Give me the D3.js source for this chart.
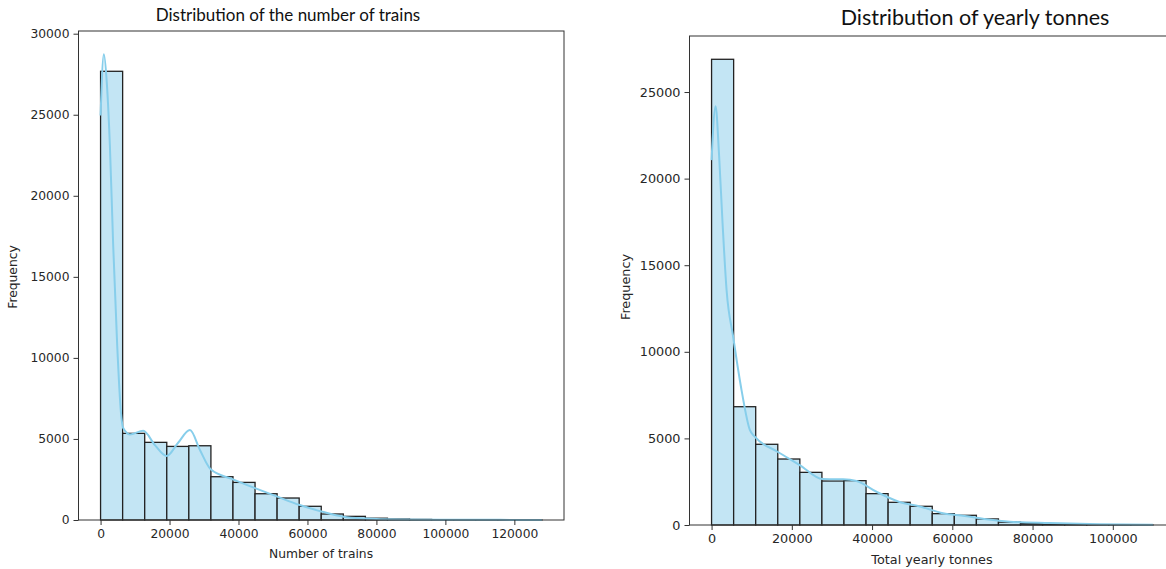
<!DOCTYPE html>
<html>
<head>
<meta charset="utf-8">
<script src="https://cdn.jsdelivr.net/npm/d3@7"></script>
<style>
  body { margin: 0; background: #fff; }
  svg { display: block; }
  .tick text { font-family: "DejaVu Sans", sans-serif; fill: #262626; }
  .title { font-family: Lato, "Open Sans", sans-serif; fill: #111; }
  .axlabel { font-family: "DejaVu Sans", sans-serif; fill: #262626; }
</style>
</head>
<body>
<div id="charts"></div>
<script>
// ---- data ----
var trainEdges = [0, 6400, 12800, 19200, 25600, 32000, 38400, 44800, 51200, 57600, 64000,
                  70400, 76800, 83200, 89600, 96000, 102400, 108800, 115200, 121600, 128000];
var trainCounts = [27680, 5345, 4790, 4540, 4580, 2670, 2320, 1620, 1356, 845,
                   370, 225, 110, 60, 35, 20, 12, 8, 5, 3];
var trainKdeX = [0, 960, 1800, 2700, 3660, 4820, 5890, 6560, 8500, 12370, 15760, 19160, 22440,
                 25920, 28820, 31930, 38400, 44990, 51260, 57760, 64320, 70420, 76720, 86880,
                 101400, 115900, 128000];
var trainKdeY = [24950, 28730, 27000, 23120, 16950, 10790, 6680, 5670, 5280, 5500, 4620, 3950, 4750,
                 5550, 4320, 3125, 2510, 1950, 1440, 925, 510, 200, 90, 30,
                 15, 8, 3];
var trainYTicks = [0, 5000, 10000, 15000, 20000, 25000, 30000];
var trainXTicks = [0, 20000, 40000, 60000, 80000, 100000, 120000];

var tonneEdges = [0, 5500, 11000, 16500, 22000, 27500, 33000, 38500, 44000, 49500, 55000,
                  60500, 66000, 71500, 77000, 82500, 88000, 93500, 99000, 104500, 110000];
var tonneCounts = [26890, 6830, 4660, 3810, 3040, 2540, 2560, 1810, 1310, 1080,
                   655, 560, 350, 165, 80, 45, 25, 12, 6, 3];
var tonneKdeX = [0, 1000, 1890, 2740, 3740, 5380, 7470, 9540, 10780, 16440, 21990, 27650,
                 32780, 36110, 41100, 46650, 52130, 57680, 63090, 68490, 74300, 84260,
                 96710, 110000];
var tonneKdeY = [21070, 24180, 21270, 17420, 13570, 10870, 7790, 5490, 5100, 4230, 3460, 2650,
                 2640, 2540, 1920, 1345, 1057, 675, 520, 330, 190, 110,
                 45, 10];
var tonneYTicks = [0, 5000, 10000, 15000, 20000, 25000];
var tonneXTicks = [0, 20000, 40000, 60000, 80000, 100000];

// append the svg object to the body of the page
var svg = d3.select("#charts")
    .append("svg")
    .attr("width", 1166)
    .attr("height", 569);

function drawHist(opt) {
    var x = d3.scaleLinear()
        .domain(opt.xDomain)
        .range([opt.left, opt.right]);
    var y = d3.scaleLinear()
        .domain(opt.yDomain)
        .range([opt.bottom, opt.top]);

    var g = svg.append("g");

    // bars
    var bins = opt.counts.map(function(c, i) {
        return { x0: opt.edges[i], x1: opt.edges[i + 1], n: c };
    });
    g.selectAll("rect.bar")
        .data(bins)
        .enter().append("rect")
        .attr("class", "bar")
        .attr("x", function(d) { return x(d.x0); })
        .attr("width", function(d) { return x(d.x1) - x(d.x0); })
        .attr("y", function(d) { return y(d.n); })
        .attr("height", function(d) { return y(0) - y(d.n); })
        .attr("fill", "#c3e5f4")
        .attr("stroke", "#222")
        .attr("stroke-width", 1.3);

    // kde line
    var pts = opt.kdeX.map(function(v, i) { return [v, opt.kdeY[i]]; });
    var line = d3.line()
        .x(function(d) { return x(d[0]); })
        .y(function(d) { return y(d[1]); })
        .curve(d3.curveMonotoneX);
    g.append("path")
        .datum(pts)
        .attr("d", line)
        .attr("fill", "none")
        .attr("stroke", "#87ceeb")
        .attr("stroke-width", 2);

    // frame
    g.append("rect")
        .attr("x", opt.left).attr("y", opt.top)
        .attr("width", opt.right - opt.left)
        .attr("height", opt.bottom - opt.top)
        .attr("fill", "none")
        .attr("stroke", "#333")
        .attr("stroke-width", 1);

    // axes
    var xAxis = g.append("g")
        .attr("transform", "translate(0," + opt.bottom + ")")
        .call(d3.axisBottom(x).tickValues(opt.xTicks).tickSize(5).tickPadding(4).tickFormat(d3.format("d")));
    var yAxis = g.append("g")
        .attr("transform", "translate(" + opt.left + ",0)")
        .call(d3.axisLeft(y).tickValues(opt.yTicks).tickSize(5).tickPadding(4).tickFormat(d3.format("d")));
    [xAxis, yAxis].forEach(function(a) {
        a.select(".domain").remove();
        a.selectAll(".tick line").attr("stroke", "#333");
        a.selectAll(".tick text").style("font-size", opt.fs + "px");
    });

    // labels
    g.append("text").attr("class", "title")
        .attr("x", opt.titleX).attr("y", opt.titleY)
        .attr("text-anchor", "middle")
        .style("font-size", opt.titleFs + "px")
        .text(opt.title);
    g.append("text").attr("class", "axlabel")
        .attr("x", opt.xLabelX).attr("y", opt.xLabelY)
        .attr("text-anchor", "middle")
        .style("font-size", opt.fs + "px")
        .text(opt.xLabel);
    g.append("text").attr("class", "axlabel")
        .attr("transform", "translate(" + opt.yLabelX + "," + opt.yLabelY + ") rotate(-90)")
        .attr("text-anchor", "middle")
        .style("font-size", opt.fs + "px")
        .text("Frequency");
}

drawHist({
    edges: trainEdges, counts: trainCounts, kdeX: trainKdeX, kdeY: trainKdeY,
    xTicks: trainXTicks, yTicks: trainYTicks,
    xDomain: [-6400, 134400], yDomain: [0, 30166],
    left: 78.5, right: 564, top: 31, bottom: 520, fs: 12.3,
    title: "Distribution of the number of trains", titleX: 288, titleY: 21, titleFs: 17,
    xLabel: "Number of trains", xLabelX: 321, xLabelY: 558,
    yLabelX: 17, yLabelY: 277
});

drawHist({
    edges: tonneEdges, counts: tonneCounts, kdeX: tonneKdeX, kdeY: tonneKdeY,
    xTicks: tonneXTicks, yTicks: tonneYTicks,
    xDomain: [-5500, 115500], yDomain: [0, 28235],
    left: 689.5, right: 1175, top: 36, bottom: 525, fs: 12.8,
    title: "Distribution of yearly tonnes", titleX: 975, titleY: 25, titleFs: 21.5,
    xLabel: "Total yearly tonnes", xLabelX: 932, xLabelY: 564,
    yLabelX: 630, yLabelY: 287
});
</script>
</body>
</html>
